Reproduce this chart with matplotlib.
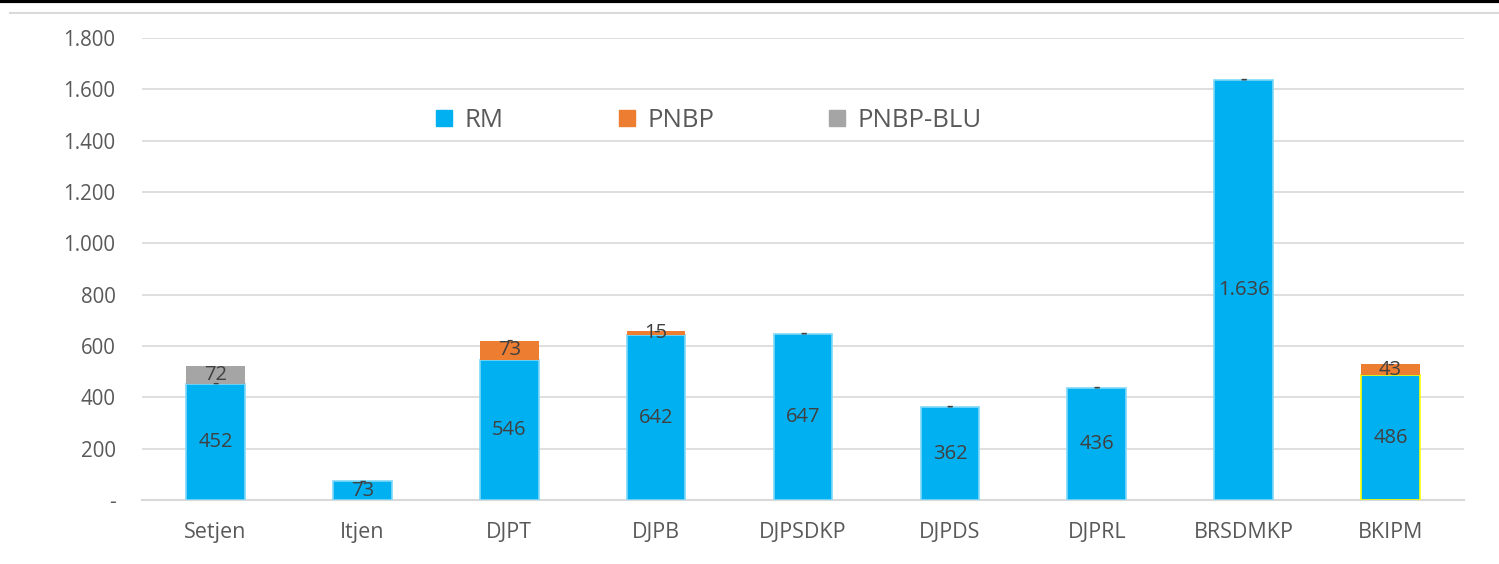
import matplotlib.pyplot as plt
from matplotlib.lines import Line2D
import numpy as np

categories = ["Setjen", "Itjen", "DJPT", "DJPB", "DJPSDKP", "DJPDS", "DJPRL", "BRSDMKP", "BKIPM"]
rm = [452, 73, 546, 642, 647, 362, 436, 1636, 486]
pnbp = [0, 0, 73, 15, 0, 0, 0, 0, 43]
pnbp_blu = [72, 0, 0, 0, 0, 0, 0, 0, 0]
y_ticks = [0, 200, 400, 600, 800, 1000, 1200, 1400, 1600, 1800]

C_RM = "#00B0F0"
C_PNBP = "#ED7D31"
C_BLU = "#A5A5A5"
TXT = "#404040"

plt.rcParams["font.family"] = ["Open Sans", "DejaVu Sans"]


def fmt(v):
    if v == 0:
        return "-"
    return f"{v:,.0f}".replace(",", ".")


fig = plt.figure(figsize=(14.99, 5.64), dpi=100)
ax = fig.add_axes([142 / 1499, 1 - 500 / 564, (1464 - 142) / 1499, (500 - 38) / 564])

x = np.arange(len(categories))
w = 0.4
rm_edges = ["#7FD8F8"] * (len(categories) - 1) + ["#FFFF00"]
b1 = ax.bar(x, rm, w, color=C_RM, edgecolor=rm_edges, linewidth=1.2, zorder=3)
b2 = ax.bar(x, pnbp, w, bottom=rm, color=C_PNBP, zorder=3)
bottom2 = [a + b for a, b in zip(rm, pnbp)]
b3 = ax.bar(x, pnbp_blu, w, bottom=bottom2, color=C_BLU, zorder=3)

# zero values are shown as "-" like the source sheet
for vals, bots in ((rm, [0] * len(rm)), (pnbp, rm), (pnbp_blu, bottom2)):
    for xi, v, b in zip(x, vals, bots):
        ax.text(xi, b + v / 2, fmt(v), ha="center", va="center", fontsize=14.5, color=TXT, zorder=4)

ax.set_ylim(0, 1800)
ax.set_xlim(-0.5, len(categories) - 0.5)
ax.set_yticks(y_ticks)
ax.set_yticklabels([fmt(v) for v in y_ticks])
ax.set_xticks(x)
ax.set_xticklabels(categories)
ax.tick_params(axis="both", length=0, colors="#595959")
ax.tick_params(axis="y", pad=19, labelsize=14.8)
ax.tick_params(axis="x", pad=16, labelsize=15.5)
ax.grid(axis="y", color="#D9D9D9", linewidth=1.2, zorder=0)
for s in ("top", "right", "left"):
    ax.spines[s].set_visible(False)
ax.spines["bottom"].set_color("#D9D9D9")
ax.spines["bottom"].set_linewidth(1.5)

handles = [Line2D([], [], marker="s", linestyle="", markersize=12, color=c) for c in (C_RM, C_PNBP, C_BLU)]
ax.legend(handles, ["RM", "PNBP", "PNBP-BLU"], loc="center", bbox_to_anchor=(0.427, 0.822), ncol=3,
          frameon=False, fontsize=18.5, labelcolor="#595959", columnspacing=4.3, handletextpad=0.3,
          handlelength=1.0)

fig.add_artist(Line2D([0, 1], [1 - 1 / 564, 1 - 1 / 564], color="black", linewidth=3))
fig.add_artist(Line2D([10 / 1499, 1], [1 - 13 / 564, 1 - 13 / 564], color="#D9D9D9", linewidth=1.5))

fig.savefig("out.png", dpi=100)
